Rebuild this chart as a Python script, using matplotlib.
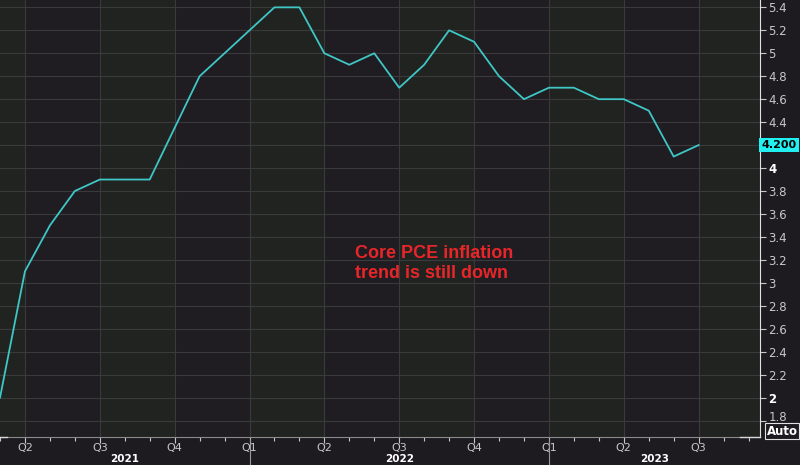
import numpy as np
import pandas as pd
import matplotlib
matplotlib.use("Agg")
import matplotlib.pyplot as plt
import matplotlib.transforms as mtransforms

# monthly core PCE y/y, Mar 2021 .. Jul 2023
months = pd.date_range("2021-03-01", "2023-07-01", freq="MS")
core_pce = [2.0, 3.1, 3.5, 3.8, 3.9, 3.9, 3.9, 4.35, 4.8, 5.0,
            5.2, 5.4, 5.4, 5.0, 4.9, 5.0, 4.7, 4.9, 5.2, 5.1,
            4.8, 4.6, 4.7, 4.7, 4.6, 4.6, 4.5, 4.1, 4.2]
last_value = 4.2
y_ticks = [1.8, 2.0, 2.2, 2.4, 2.6, 2.8, 3.0, 3.2, 3.4, 3.6, 3.8,
           4.0, 4.2, 4.4, 4.6, 4.8, 5.0, 5.2, 5.4]
years = [2021, 2022, 2023]
note = "Core PCE inflation\ntrend is still down"

BG = "#1d1b20"
BAND_A = "#1f1d21"
BAND_B = "#212320"
GRID = "#3a3a3c"
LINE = "#3fc6c6"
TICK = "#c8c8c8"

x = np.arange(len(months))
x_max = 30.46

fig = plt.figure(figsize=(8, 4.65), dpi=100, facecolor=BG)
ax = fig.add_axes([0, 28 / 465, 760 / 800, 437 / 465])
ax.set_facecolor(BAND_B)

# alternating quarter bands
q_pos = [i for i, m in enumerate(months) if m.month in (1, 4, 7, 10)]
edges = [0] + q_pos + [x_max + 3]
for k in range(len(edges) - 1):
    col = BAND_B if k % 2 == 0 else BAND_A
    ax.axvspan(edges[k], edges[k + 1], color=col, lw=0, zorder=0)

ax.plot(x, core_pce, color=LINE, lw=1.3, zorder=3)

ax.set_xlim(0, x_max)
ax.set_ylim(1.657, 5.464)

# grid
for v in y_ticks:
    ax.axhline(v, color=GRID, lw=0.8, zorder=1)
for q in q_pos:
    ax.axvline(q, color=GRID, lw=0.8, zorder=1)

# y axis on the right
ax.yaxis.tick_right()
ax.set_yticks(y_ticks)
ylabels = []
for v in y_ticks:
    if abs(v - last_value) < 1e-9:
        ylabels.append("")
    else:
        ylabels.append("%g" % v)
ax.set_yticklabels(ylabels)
ax.tick_params(axis="y", colors=TICK, labelsize=8.5, length=4, width=0.8, pad=2)
for lab, v in zip(ax.get_yticklabels(), y_ticks):
    if v in (2.0, 4.0):
        lab.set_fontweight("bold")
        lab.set_color("white")
    if v == 1.8:
        # nudged up to make room for the "Auto" button
        lab.set_transform(lab.get_transform() +
                          mtransforms.ScaledTranslation(0, 5 / 100, fig.dpi_scale_trans))

# x axis: quarter majors, month minors
q_ticks = list(range(1, 31, 3))
ax.set_xticks(q_ticks)
ax.set_xticklabels(["Q%d" % ((((m + 2) % 12) // 3) + 1) for m in q_ticks])
ax.set_xticks(np.arange(0, 31), minor=True)
ax.tick_params(axis="x", which="major", colors=TICK, labelsize=8, length=4, width=0.8, pad=0)
ax.tick_params(axis="x", which="minor", colors=TICK, length=3, width=0.8)

for s in ("top", "left"):
    ax.spines[s].set_visible(False)
ax.spines["right"].set_color("#e0e0e0")
ax.spines["bottom"].set_color("#8a8a8a")

trans = mtransforms.blended_transform_factory(ax.transData, ax.transAxes)
# brighter scroll markers on the time axis
ax.plot([0, 0.3], [0, 0], transform=trans, color="#d8d8d8", lw=1.0, clip_on=False, zorder=5)
ax.plot([29.66, x_max], [0, 0], transform=trans, color="#d8d8d8", lw=1.0, clip_on=False, zorder=5)

# year labels and separators
year_starts = [i for i, m in enumerate(months) if m.month == 1]
bounds = [0] + year_starts + [x_max]
for k, yr in enumerate(years):
    mid = (bounds[k] + bounds[k + 1]) / 2
    ax.text(mid, -0.0495, str(yr), transform=trans, ha="center", va="center",
            color="white", fontsize=7.5, fontweight="bold")
for ys in year_starts:
    ax.plot([ys, ys], [-0.005, -0.07], transform=trans, color="#9a9a9a",
            lw=0.8, clip_on=False)

# last value box
ax.text(1.002, last_value, "%.3f" % last_value,
        transform=mtransforms.blended_transform_factory(ax.transAxes, ax.transData),
        ha="left", va="center", fontsize=8, color="black", fontweight="bold",
        bbox=dict(boxstyle="square,pad=0.2", fc="#22f0f0", ec="none"),
        clip_on=False)

fig.text(782 / 800, 1 - 431 / 465, "Auto", ha="center", va="center",
         fontsize=8.5, color="white", fontweight="bold",
         bbox=dict(boxstyle="square,pad=0.12", fc=BG, ec="#e0e0e0", lw=0.8))

ax.text(14.23, 3.17, note, color="#e8262a", fontsize=13,
        fontweight="bold", family="Liberation Sans", ha="left", va="center",
        linespacing=1.2, zorder=4)

fig.savefig("out.png", dpi=100, facecolor=BG)
